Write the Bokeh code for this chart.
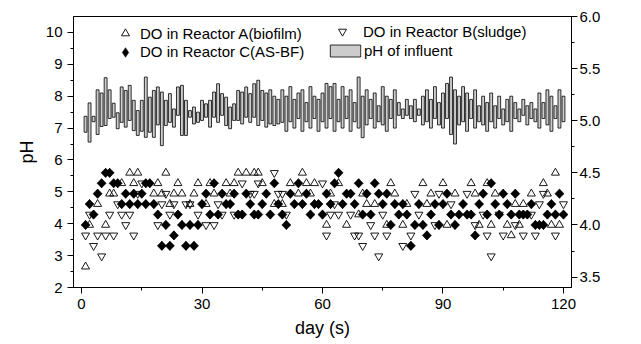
import math
from bokeh.plotting import figure
from bokeh.models import (Range1d, LinearAxis, FixedTicker, Legend, LegendItem,
                          ColumnDataSource, PrintfTickFormatter, Label)
from bokeh.embed import file_html
from bokeh.resources import INLINE

FONT = "Liberation Sans"

# ---------------- data ----------------
days = list(range(1, 121))
ph_low = [6.87, 6.56, 7.20, 6.80, 7.05, 7.08, 7.30, 7.34, 6.98, 7.18,
          7.03, 7.24, 6.92, 6.77, 6.90, 6.71, 6.87, 6.71, 7.10, 6.45,
          7.08, 7.18, 7.03, 7.40, 6.77, 6.77, 7.34, 7.13, 7.18, 7.24,
          7.34, 7.03, 7.34, 7.18, 7.40, 7.08, 6.98, 7.24, 7.24, 7.13,
          7.34, 7.18, 7.34, 7.08, 7.24, 7.03, 7.13, 7.08, 7.13, 7.18,
          6.90, 7.20, 7.00, 7.30, 6.90, 7.20, 7.00, 7.30, 6.90, 7.20,
          7.00, 7.30, 6.90, 7.20, 7.00, 7.30, 6.90, 7.20, 7.00, 6.70,
          7.10, 7.30, 7.00, 7.20, 7.10, 6.90, 7.30, 7.00, 7.40, 7.30,
          7.40, 7.30, 7.20, 7.40, 7.10, 7.20, 7.00, 7.30, 7.10, 7.00,
          7.30, 6.80, 6.50, 7.10, 7.20, 6.90, 7.30, 7.00, 7.20, 7.10,
          6.90, 7.20, 7.00, 7.30, 7.10, 7.20, 6.90, 7.30, 7.20, 7.40,
          7.10, 7.30, 7.20, 7.00, 7.30, 7.10, 6.90, 7.30, 7.00, 7.20]
ph_high = [7.37, 7.79, 7.37, 8.20, 8.10, 8.58, 8.20, 7.78, 7.48, 8.29,
           8.18, 8.34, 7.87, 7.55, 7.87, 8.60, 7.97, 8.18, 8.29, 8.13,
           7.87, 8.08, 7.60, 8.29, 8.34, 7.87, 7.55, 7.66, 7.50, 7.87,
           7.76, 7.87, 8.13, 8.39, 8.08, 7.97, 7.66, 7.76, 8.18, 8.13,
           8.29, 8.08, 8.39, 8.50, 8.18, 8.10, 8.20, 8.00, 7.90, 8.20,
           8.00, 8.30, 7.90, 8.10, 8.20, 7.80, 8.30, 8.00, 7.90, 8.10,
           8.40, 8.30, 8.40, 7.90, 8.30, 8.00, 8.20, 7.80, 8.60, 8.00,
           8.20, 7.90, 8.10, 7.70, 8.30, 8.00, 7.90, 8.20, 7.80, 7.60,
           7.90, 7.70, 7.90, 7.60, 8.00, 8.20, 7.90, 8.30, 7.80, 8.10,
           8.40, 8.60, 8.20, 8.00, 8.30, 8.10, 7.90, 8.20, 7.70, 8.00,
           7.80, 8.10, 7.70, 8.00, 7.60, 7.90, 8.00, 7.80, 7.60, 7.90,
           7.70, 7.80, 7.60, 8.10, 7.80, 8.20, 8.00, 7.70, 8.20, 8.00]

# DO in Reactor A (biofilm)
a_day = [1, 2, 4, 6, 7, 8, 10, 12, 13, 14, 18, 19, 20, 21, 22, 23, 24, 25, 27, 28,
         29, 31, 32, 33, 36, 37, 38, 39, 41, 43, 44, 45, 48, 50, 52, 54, 55, 56, 57, 58,
         61, 62, 64, 66, 69, 70, 71, 73, 76, 77, 78, 80, 81, 85, 86, 87, 90, 91, 93, 97,
         98, 99, 101, 102, 103, 106, 107, 108, 109, 110, 112, 115, 116, 117, 118, 119]
a_do = [3.6, 4.0, 4.2, 4.0, 4.3, 4.3, 4.4, 4.5, 4.4, 4.5, 4.3, 4.4, 4.3, 4.5, 4.2, 4.3, 4.4, 4.3, 4.2, 4.3,
        4.4, 4.2, 4.4, 4.3, 4.4, 4.3, 4.4, 4.5, 4.5, 4.5, 4.5, 4.4, 4.2, 4.2, 4.4, 4.3, 4.5, 4.4, 4.3, 4.4,
        4.0, 4.3, 4.4, 4.0, 4.1, 4.3, 4.2, 4.2, 4.0, 4.4, 4.3, 4.0, 4.2, 4.4, 4.2, 4.3, 4.4, 4.0, 4.3, 4.4,
        4.3, 4.0, 4.4, 4.0, 4.3, 4.0, 3.9, 4.2, 4.0, 4.2, 4.3, 4.4, 4.3, 4.0, 4.5, 4.0]

# DO in Reactor B (sludge)
b_day = [1, 2, 3, 4, 5, 6, 7, 8, 9, 10, 11, 12, 13, 14, 15, 19, 20, 21, 22, 23,
         26, 27, 29, 31, 33, 34, 35, 38, 40, 42, 43, 44, 48, 49, 50, 51, 60, 61, 62, 63,
         64, 67, 68, 69, 70, 72, 73, 74, 75, 76, 80, 82, 83, 84, 88, 89, 92, 96, 98, 100,
         101, 102, 104, 105, 108, 110, 112, 113, 114, 115, 118, 120]
b_do = [3.9, 4.1, 3.8, 3.9, 3.7, 3.9, 4.1, 3.9, 4.2, 4.1, 4.0, 4.1, 3.9, 4.3, 4.4, 4.0, 4.2, 4.3, 4.1, 4.2,
        4.2, 4.2, 4.1, 4.0, 4.0, 4.2, 4.1, 4.1, 4.4, 4.3, 4.3, 4.4, 4.5, 4.3, 4.3, 4.1, 4.4, 3.9, 4.1, 4.2,
        4.1, 4.1, 3.9, 3.9, 3.8, 4.0, 3.9, 3.7, 4.1, 3.9, 3.8, 3.9, 4.3, 4.1, 4.0, 4.3, 4.2, 4.3, 4.0, 4.1,
        3.9, 3.7, 4.1, 3.9, 4.0, 3.9, 4.1, 3.9, 4.2, 4.3, 3.9, 4.2]

# DO in Reactor C (AS-BF)
c_day = [1, 2, 3, 4, 5, 6, 7, 8, 9, 10, 11, 12, 13, 14, 15, 16, 16, 17, 18, 19,
         20, 21, 22, 23, 24, 25, 26, 27, 28, 29, 30, 31, 32, 33, 34, 35, 36, 37, 38, 39,
         40, 41, 42, 43, 44, 45, 46, 47, 48, 49, 50, 51, 52, 53, 54, 55, 56, 57, 58, 59,
         60, 61, 62, 63, 64, 65, 66, 67, 68, 69, 70, 71, 72, 73, 74, 75, 76, 77, 78, 79,
         80, 81, 82, 83, 84, 85, 86, 87, 88, 89, 90, 91, 92, 93, 94, 95, 96, 97, 98, 99,
         100, 101, 102, 103, 104, 105, 106, 107, 108, 109, 110, 111, 112, 113, 114, 115, 116, 117, 118, 119, 120]
c_do = [4.0, 4.2, 4.1, 4.3, 4.4, 4.5, 4.5, 4.4, 4.4, 4.2, 4.3, 4.2, 4.3, 4.2, 4.3, 4.2, 4.4, 4.4, 4.2, 4.1,
        3.8, 4.0, 3.8, 3.9, 4.1, 4.0, 3.8, 4.0, 3.8, 4.0, 4.2, 4.3, 4.1, 4.4, 4.1, 4.3, 4.2, 4.2, 4.3, 4.1,
        4.1, 4.3, 4.2, 4.1, 4.1, 4.2, 4.3, 4.1, 4.4, 4.2, 4.1, 4.0, 4.3, 4.2, 4.4, 4.2, 4.3, 4.1, 4.2, 4.2,
        4.1, 4.3, 4.2, 4.4, 4.5, 4.2, 4.3, 4.3, 4.2, 4.4, 4.1, 4.3, 4.1, 4.4, 4.3, 4.2, 4.3, 4.0, 4.2, 4.1,
        4.2, 4.1, 3.8, 4.0, 4.2, 4.0, 3.9, 4.1, 4.2, 4.0, 4.2, 4.3, 4.1, 4.0, 4.1, 4.2, 4.1, 4.1, 3.9, 4.2,
        4.3, 4.1, 4.4, 4.2, 4.1, 4.3, 4.2, 4.1, 4.3, 4.1, 4.1, 4.1, 4.2, 4.0, 4.0, 4.0, 4.1, 4.2, 4.1, 4.3, 4.1]

x_ticks = [0, 30, 60, 90, 120]
ph_ticks = [2, 3, 4, 5, 6, 7, 8, 9, 10]
do_ticks = [3.5, 4.0, 4.5, 5.0, 5.5, 6.0]

# ---------------- figure ----------------
p = figure(width=636, height=344, output_backend="svg", toolbar_location=None,
           x_range=Range1d(-2, 122), y_range=Range1d(2, 10.5),
           min_border_left=73, min_border_right=65, min_border_top=16, min_border_bottom=57)
p.extra_y_ranges = {"do": Range1d(3.4, 6.0)}
p.xgrid.visible = False
p.ygrid.visible = False
p.outline_line_color = "black"
p.outline_line_width = 1
p.background_fill_color = "white"
p.border_fill_color = "white"

# pH bars
src_ph = ColumnDataSource(dict(x=days, top=ph_high, bottom=ph_low))
r_ph = p.vbar(x="x", top="top", bottom="bottom", width=0.72, source=src_ph,
              fill_color="#cccccc", line_color="black", line_width=0.8)

# DO markers (right axis)
r_c_leg = p.scatter(c_day, c_do, marker="diamond", size=9, fill_color="black",
                    line_color="black", line_width=0.5, y_range_name="do")
r_c = p.scatter(c_day, c_do, marker="square", angle=math.pi / 4, size=6.5,
                fill_color="black", line_color="black", line_width=0.5, y_range_name="do")
r_a = p.scatter(a_day, a_do, marker="triangle", size=8, fill_color=None,
                line_color="black", line_width=0.9, y_range_name="do")
r_b = p.scatter(b_day, b_do, marker="inverted_triangle", size=8, fill_color=None,
                line_color="black", line_width=0.9, y_range_name="do")


def style_axis(ax, standoff):
    ax.axis_line_color = "black"
    ax.major_tick_line_color = "black"
    ax.minor_tick_line_color = "black"
    ax.major_tick_in = 0
    ax.major_tick_out = 6
    ax.minor_tick_in = 0
    ax.minor_tick_out = 3
    ax.major_label_text_color = "black"
    ax.major_label_text_font = FONT
    ax.major_label_text_font_size = "15px"
    ax.major_label_standoff = standoff
    ax.axis_label_text_color = "black"
    ax.axis_label_text_font = FONT
    ax.axis_label_text_font_size = "18px"
    ax.axis_label_text_font_style = "normal"


xa = p.xaxis[0]
xa.ticker = FixedTicker(ticks=x_ticks, minor_ticks=[15, 45, 75, 105])
xa.axis_label = "day (s)"
style_axis(xa, 5)
xa.axis_label_standoff = 6

ya = p.yaxis[0]
ya.ticker = FixedTicker(ticks=ph_ticks, minor_ticks=[t + 0.5 for t in ph_ticks[:-1]])
ya.axis_label = "pH"
style_axis(ya, 5)
ya.axis_label_standoff = 6

ra = LinearAxis(y_range_name="do",
                ticker=FixedTicker(ticks=do_ticks, minor_ticks=[t + 0.25 for t in do_ticks[:-1]]),
                formatter=PrintfTickFormatter(format="%.1f"))
style_axis(ra, 2)
p.add_layout(ra, "right")

# right axis title, reading bottom to top
p.add_layout(Label(x=135.0, y=6.39, text="DO (mg/l)", angle=math.pi / 2,
                   text_align="center", text_baseline="middle",
                   text_font=FONT, text_font_size="18px", text_color="black"))


def one_legend(renderer, label, loc, gw, gh, lh, standoff):
    lg = Legend(items=[LegendItem(label=label, renderers=[renderer])], location=loc,
                glyph_width=gw, glyph_height=gh, label_height=lh, label_standoff=standoff,
                padding=0, margin=0, spacing=0, border_line_color=None,
                background_fill_alpha=0, label_text_font=FONT,
                label_text_font_size="15px", label_text_color="black")
    p.add_layout(lg, "center")


one_legend(r_a, "DO in Reactor A(biofilm)", (38, 243.7), 28, 20, 20, 1)
one_legend(r_c_leg, "DO in Reactor C(AS-BF)", (38, 223.3), 28, 24, 24, 1)
one_legend(r_b, "DO in Reactor B(sludge)", (254, 245.7), 30, 20, 20, 6)
one_legend(r_ph, "pH of influent", (253, 227.0), 38, 15, 20, 0)

open("out.html", "w").write(file_html(p, INLINE))
